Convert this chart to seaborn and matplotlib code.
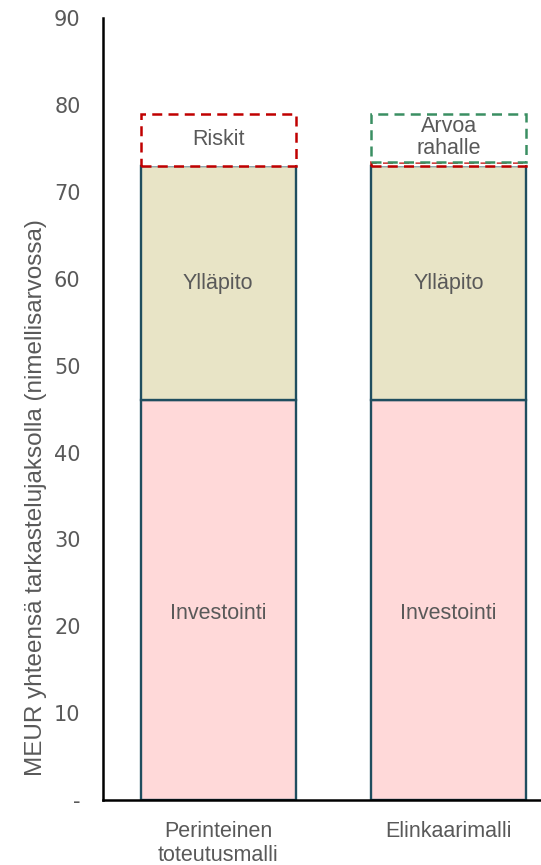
import matplotlib
matplotlib.use("Agg")
import matplotlib.pyplot as plt
import seaborn as sns
import pandas as pd

# data
models = ["Perinteinen\ntoteutusmalli", "Elinkaarimalli"]
investointi = [46, 46]
yllapito = [27, 27]
riskit = [6, 0.5]
arvoa_rahalle = [0, 5.5]

grey = "#595959"
edge = "#1F4E5F"

sns.set_theme(style="white")
plt.rcParams['font.family'] = ['Liberation Sans', 'DejaVu Sans']

df = pd.DataFrame({
    "malli": models,
    "Investointi": investointi,
    "Ylläpito": yllapito,
    "Riskit": riskit,
    "Arvoa rahalle": arvoa_rahalle,
})
df["base2"] = df["Investointi"] + df["Ylläpito"]
df["base3"] = df["base2"] + df["Riskit"]

fig = plt.figure(figsize=(5.41, 8.65), dpi=100)
ax = fig.add_axes([0.19, 0.075, 0.81, 0.904])

w = 0.672
sns.barplot(data=df, x="malli", y="Investointi", color="#FFD9D9", saturation=1,
            width=w, edgecolor=edge, linewidth=1.7, ax=ax)
sns.barplot(data=df, x="malli", y="Ylläpito", color="#E8E4C6", saturation=1,
            width=w, edgecolor=edge, linewidth=1.7, bottom=df["Investointi"], ax=ax)

# dashed boxes on top
sns.barplot(data=df, x="malli", y="Riskit", color="white", saturation=1,
            width=w, edgecolor="#C00000", linewidth=1.8, linestyle=(0, (4, 2.5)),
            bottom=df["base2"], ax=ax)
sns.barplot(data=df, x="malli", y="Arvoa rahalle", color="white", saturation=1,
            width=w, edgecolor="#3A8F62", linewidth=1.8, linestyle=(0, (4, 2.5)),
            bottom=df["base3"], ax=ax)
# hide the empty green box on the first bar
for p in ax.patches[-2:]:
    if p.get_height() == 0:
        p.set_visible(False)

# segment labels
fs = 15.5
for i in range(len(models)):
    ax.text(i, investointi[i] / 2 - 1.5, "Investointi", ha="center", va="center",
            color=grey, fontsize=fs)
    ax.text(i, investointi[i] + yllapito[i] / 2, "Ylläpito", ha="center", va="center",
            color=grey, fontsize=fs)
ax.text(0, df["base2"][0] + riskit[0] / 2, "Riskit", ha="center", va="center",
        color=grey, fontsize=fs)
ax.text(1, df["base3"][1] + arvoa_rahalle[1] / 2, "Arvoa\nrahalle", ha="center",
        va="center", color=grey, fontsize=fs, linespacing=1.1)

ax.set_ylim(0, 90)
ax.set_xlim(-0.5, 1.4)
ax.set_yticks(range(0, 91, 10))
ax.set_yticklabels(["-"] + [str(v) for v in range(10, 91, 10)])
ax.tick_params(axis="y", length=0, pad=16, labelsize=15, labelcolor=grey)
ax.tick_params(axis="x", length=0, pad=15, labelsize=15.5, labelcolor=grey)
for lab in ax.get_yticklabels():
    lab.set_family(['DejaVu Sans'])
    lab.set_fontsize(15)

ax.set_xlabel("")
ax.set_ylabel("MEUR yhteensä tarkastelujaksolla (nimellisarvossa)", color=grey,
              fontsize=17.5, family=['Liberation Sans Narrow', 'Liberation Sans'])
ax.yaxis.set_label_coords(-0.127, 0.387)

sns.despine(ax=ax, top=True, right=True)
ax.spines["left"].set_color("black")
ax.spines["bottom"].set_color("black")
ax.spines["left"].set_linewidth(1.8)
ax.spines["bottom"].set_linewidth(1.8)

fig.savefig("out.png", dpi=100)
